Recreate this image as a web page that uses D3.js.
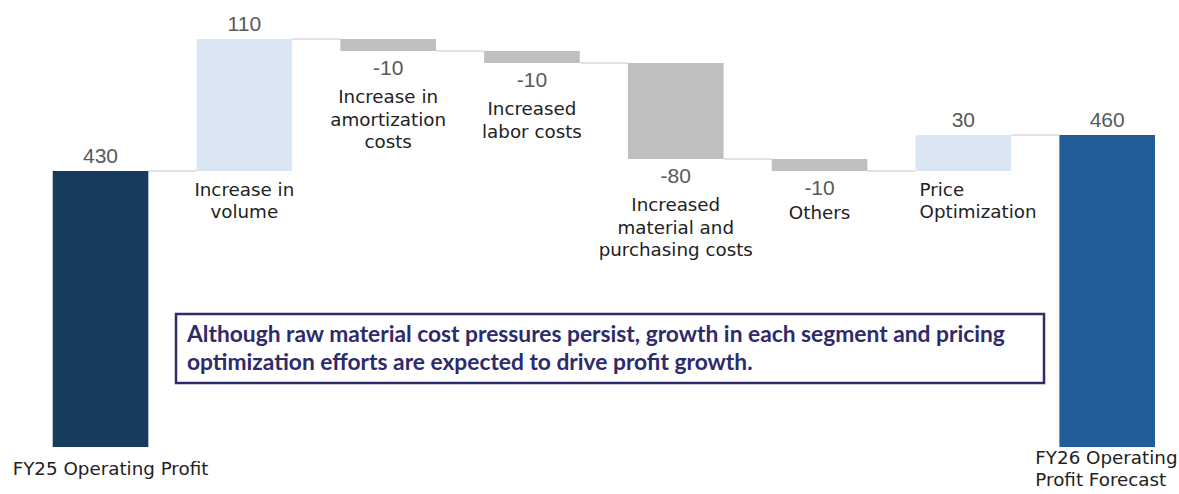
<!DOCTYPE html>
<html>
<head>
<meta charset="utf-8">
<script src="https://cdn.jsdelivr.net/npm/d3@7/dist/d3.min.js"></script>
<style>
  html, body { margin: 0; padding: 0; background: #ffffff; }
  svg { display: block; }
</style>
</head>
<body>
<svg id="chart" width="1179" height="494"></svg>
<script>
// Operating profit bridge: FY25 actual to FY26 forecast
const categories = [
  "FY25 Operating Profit",
  "Increase in volume",
  "Increase in amortization costs",
  "Increased labor costs",
  "Increased material and purchasing costs",
  "Others",
  "Price Optimization",
  "FY26 Operating Profit Forecast"
];
const categoryLines = [
  ["FY25 Operating Profit"],
  ["Increase in", "volume"],
  ["Increase in", "amortization", "costs"],
  ["Increased", "labor costs"],
  ["Increased", "material and", "purchasing costs"],
  ["Others"],
  ["Price", "Optimization"],
  ["FY26 Operating", "Profit Forecast"]
];
const values = [430, 110, -10, -10, -80, -10, 30, 460];
const kinds = ["total", "delta", "delta", "delta", "delta", "delta", "delta", "total"];
const valueLabels = ["430", "110", "-10", "-10", "-80", "-10", "30", "460"];
const valueDomain = [200, 540];
const noteLines = [
  "Although raw material cost pressures persist, growth in each segment and pricing",
  "optimization efforts are expected to drive profit growth."
];

// Running totals for the floating bars
let running = 0;
const bars = categories.map((c, i) => {
  let start, end;
  if (kinds[i] === "total") {
    start = valueDomain[0];
    end = values[i];
    running = values[i];
  } else {
    start = running;
    end = running + values[i];
    running = end;
  }
  return { name: c, i, kind: kinds[i], value: values[i], start, end,
           lines: categoryLines[i], label: valueLabels[i] };
});

const svg = d3.select("#chart");

const x = d3.scaleBand()
  .domain(categories)
  .range([52.7, 1155])
  .paddingInner(0.335)
  .paddingOuter(0);

const y = d3.scaleLinear()
  .domain(valueDomain)
  .range([447, 39]);

const colour = d => {
  if (d.i === 0) return "#173a5f";
  if (d.kind === "total") return "#215d99";
  return d.value >= 0 ? "#dae6f4" : "#bfbfbf";
};

// Connector lines between consecutive bars
svg.append("g")
  .selectAll("line")
  .data(bars.slice(0, -1))
  .join("line")
  .attr("x1", d => x(d.name) + x.bandwidth())
  .attr("x2", d => x(categories[d.i + 1]))
  .attr("y1", d => y(d.end))
  .attr("y2", d => y(d.end))
  .attr("stroke", "#d9d9d9")
  .attr("stroke-width", 1.5);

// Bars
svg.append("g")
  .selectAll("rect")
  .data(bars)
  .join("rect")
  .attr("x", d => x(d.name))
  .attr("width", x.bandwidth())
  .attr("y", d => y(Math.max(d.start, d.end)))
  .attr("height", d => Math.abs(y(d.start) - y(d.end)))
  .attr("fill", colour);

// Value labels
svg.append("g")
  .selectAll("text")
  .data(bars)
  .join("text")
  .attr("x", d => x(d.name) + x.bandwidth() / 2)
  .attr("y", d => d.value >= 0
      ? y(Math.max(d.start, d.end)) - 8
      : y(Math.min(d.start, d.end)) + 23.5)
  .attr("text-anchor", "middle")
  .attr("font-family", "'Liberation Sans', Arial, sans-serif")
  .attr("font-size", 21)
  .attr("fill", "#595959")
  .text(d => d.label);

// Category labels
const catG = svg.append("g")
  .attr("font-family", "'DejaVu Sans', Verdana, sans-serif")
  .attr("font-size", 18.3)
  .attr("fill", "#222222");

bars.forEach(d => {
  const bottom = y(Math.min(d.start, d.end));
  const left = x(d.name);
  const mid = left + x.bandwidth() / 2;
  let anchor = "middle", tx = mid, firstBase, step = 22;
  if (d.kind === "total") {
    firstBase = bottom + 28 - (d.lines.length - 1) * step / 2;
    if (d.i === 0) { tx = mid + 10; }
    else { anchor = "start"; tx = left - 24; }
  } else if (d.value >= 0) {
    firstBase = bottom + 25;
    step = 21.5;
    if (d.i === 6) { anchor = "start"; tx = left + 4; }
  } else {
    firstBase = bottom + (d.lines.length === 1 ? 48 : 52);
    step = 22.5;
  }
  const t = catG.append("text")
    .attr("text-anchor", anchor);
  d.lines.forEach((ln, k) => {
    t.append("tspan")
      .attr("x", tx)
      .attr("y", firstBase + k * step)
      .text(ln);
  });
});

// Commentary box
const note = svg.append("g");
note.append("rect")
  .attr("x", 176)
  .attr("y", 314)
  .attr("width", 868)
  .attr("height", 69)
  .attr("fill", "#ffffff")
  .attr("stroke", "#2d2b6c")
  .attr("stroke-width", 2.5);

const noteText = note.selectAll("text")
  .data(noteLines)
  .join("text")
  .attr("x", 187)
  .attr("y", (d, k) => 342 + k * 28)
  .attr("font-family", "Lato, 'Open Sans', sans-serif")
  .attr("font-weight", "bold")
  .attr("font-size", 20)
  .attr("fill", "#2e2b6b")
  .text(d => d);

// Size the commentary so the first line spans the box interior
const firstWidth = noteText.nodes()[0].getComputedTextLength();
const fitted = 20 * 818 / firstWidth;
noteText.attr("font-size", fitted);
</script>
</body>
</html>
